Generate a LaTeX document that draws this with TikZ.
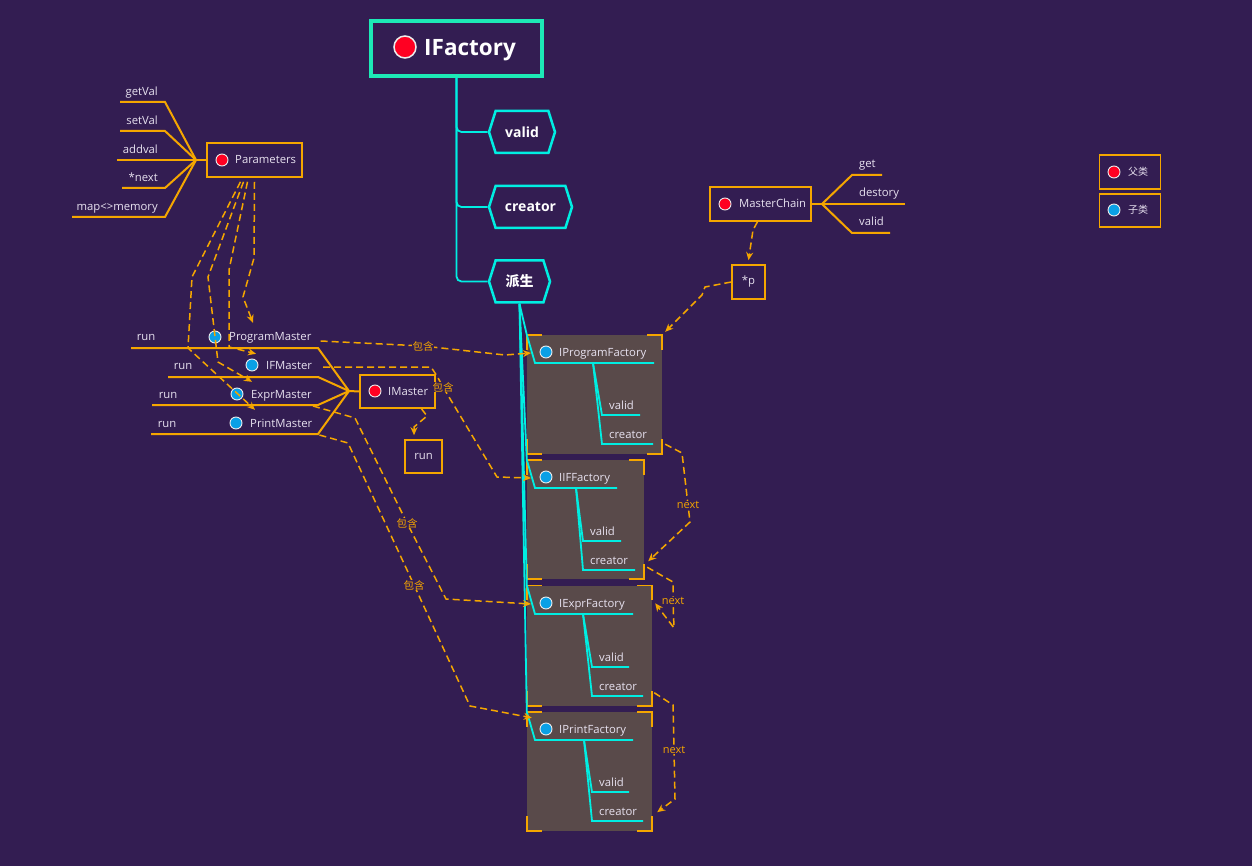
\documentclass[tikz,border=0pt]{standalone}
\usepackage{fontspec}
\setmainfont{Open Sans}
\newfontfamily\cjk{Noto Sans CJK SC}
\usetikzlibrary{shapes.symbols,arrows.meta}

\definecolor{bgpurple}{RGB}{51,29,82}
\definecolor{maporange}{RGB}{245,166,0}
\definecolor{mapcyan}{RGB}{0,238,226}
\definecolor{rootteal}{RGB}{29,233,182}
\definecolor{labeltext}{RGB}{232,226,240}
\definecolor{parentred}{RGB}{255,0,34}
\definecolor{childblue}{RGB}{10,160,230}
\definecolor{factoryfill}{RGB}{89,74,74}

\tikzset{
  obox/.style={draw=maporange, line width=1.6pt, minimum height=34pt, inner sep=0pt},
  fbox/.style={fill=factoryfill, inner sep=0pt},
  rootbox/.style={draw=rootteal, line width=4pt, minimum width=171pt, minimum height=55pt, inner sep=0pt},
  pdot/.style={circle, fill=parentred, draw=white!85!gray, line width=0.9pt, minimum size=12pt, inner sep=0pt},
  cdot/.style={pdot, fill=childblue},
  lbl/.style={anchor=west, text=labeltext, font=\fontsize{11.3}{13}\selectfont, inner sep=0pt, text height=8pt, text depth=0pt},
  hexbox/.style={signal, signal to=west and east, signal pointer angle=145, draw=mapcyan, line width=2.5pt,
    text=white, font=\bfseries\fontsize{14}{16}\selectfont, minimum height=42pt, inner xsep=1pt},
  oline/.style={draw=maporange, line width=2pt},
  cline/.style={draw=mapcyan, line width=1.8pt},
  corner/.style={draw=maporange, line width=1.6pt},
  dashlink/.style={draw=maporange, line width=1.5pt, dash pattern=on 7pt off 4pt, -{Stealth[length=8pt,width=7pt]}},
  linklbl/.style={text=maporange, fill=bgpurple, font=\cjk\fontsize{10.5}{12}\selectfont, inner sep=0.5pt},
  nextlbl/.style={text=maporange, fill=bgpurple, font=\fontsize{11}{13}\selectfont, inner sep=0.5pt},
}

\begin{document}
\begin{tikzpicture}[x=1pt,y=-1pt]
  \fill[bgpurple] (0,0) rectangle (1252,866);
  \useasboundingbox (0,0) rectangle (1252,866);

  % root IFactory and its branches
  \node[rootbox] (ifactory) at (456.5,48.5) {};
  \node[pdot, minimum size=22pt, line width=1.5pt] (ifactorydot) at (405,47) {};
  \node[anchor=base west, inner sep=0pt, text=white, font=\bfseries\fontsize{22.5}{26}\selectfont] (ifactorytxt) at (424,56) {IFactory};
  \node[hexbox, minimum width=66pt] (valid) at (522,132) {valid};
  \node[hexbox, minimum width=83pt] (creator) at (530.5,207) {creator};
  \node[hexbox, minimum width=61pt, font=\cjk\bfseries\fontsize{14}{16}\selectfont] (paisheng) at (519.5,281.5) {派生};
  \foreach \c in {valid,creator,paisheng}
    \draw[cline, rounded corners=5pt] (ifactory.south) |- (\c.west);

  % factory boxes
  \node[fbox, minimum width=135pt, minimum height=119pt] (progf) at (594.5,394.5) {};
  \node[fbox, minimum width=117pt, minimum height=119pt] (iff) at (585.5,519.5) {};
  \node[fbox, minimum width=125pt, minimum height=120pt] (exprf) at (589.5,645.5) {};
  \node[fbox, minimum width=125pt, minimum height=119pt] (printf) at (589.5,771.5) {};
  \foreach \f in {progf,iff,exprf,printf}{
    \draw[corner] ([yshift=-15pt]\f.north west) -- (\f.north west) -- ([xshift=15pt]\f.north west);
    \draw[corner] ([xshift=-15pt]\f.north east) -- (\f.north east) -- ([yshift=-15pt]\f.north east);
    \draw[corner] ([yshift=15pt]\f.south west) -- (\f.south west) -- ([xshift=15pt]\f.south west);
    \draw[corner] ([xshift=-15pt]\f.south east) -- (\f.south east) -- ([yshift=15pt]\f.south east);
  }
  \foreach \f/\ftitle/\yt/\uend/\xb/\xs/\yv/\vend/\yc/\cend in {
      progf/IProgramFactory/352/654/593/602/415/640/444/653,
      iff/IIFFactory/477/617/576/583/541/621/570/635,
      exprf/IExprFactory/603/633/583/592/667/629/696/643,
      printf/IPrintFactory/729/633/584/592/792/629/821/643}{
    \draw[cline] (paisheng.south) -- (\f.north west) -- (535,\yt+11) -- (\uend,\yt+11);
    \draw[cline] (\xb,\yt+11) -- (\xs,\yv) -- (\vend,\yv);
    \draw[cline] (\xb,\yt+11) -- (\xs,\yc) -- (\cend,\yc);
    \node[cdot] (\f-dot) at (546,\yt) {};
    \node[lbl] (\f-title) at (559,\yt) {\ftitle};
    \node[lbl] (\f-valid) at (\xs+7,\yv-10) {valid};
    \node[lbl] (\f-creator) at (\xs+7,\yc-10) {creator};
    \coordinate (\f-in) at (531,\yt+1);
  }

  % Parameters
  \node[obox, minimum width=95pt] (params) at (254.5,160) {};
  \node[pdot] (paramsdot) at (222,160) {};
  \node[lbl] (paramstxt) at (235,160) {Parameters};
  \coordinate (paramsj) at (196,160);
  \draw[oline] (params.west) -- (paramsj);
  \foreach \m/\ml/\yl/\xl in {getval/getVal/102/120, setval/setVal/131/120, addval/addval/160/117,
      pnext/*next/188/122, memory/map<>memory/217/72}{
    \node[lbl, anchor=east] (\m) at (158,\yl-10) {\ml};
    \draw[oline] (\xl,\yl) -- (165,\yl) -- (paramsj);
  }

  % MasterChain
  \node[obox, minimum width=101pt] (mchain) at (760.5,204) {};
  \node[pdot] (mchaindot) at (725,204) {};
  \node[lbl] (mchaintxt) at (739,204) {MasterChain};
  \coordinate (mchainj) at (822,204);
  \draw[oline] (mchain.east) -- (mchainj);
  \foreach \m/\ml/\yl/\xe in {mget/get/175/882, mdestory/destory/204/905, mvalid/valid/233/890}{
    \node[lbl] (\m) at (859,\yl-11) {\ml};
    \draw[oline] (mchainj) -- (852,\yl) -- (\xe,\yl);
  }
  \node[obox, minimum width=33pt, text=labeltext, font=\fontsize{11.3}{13}\selectfont] (pbox) at (748.5,282) {*p};

  % IMaster and the masters
  \node[obox, minimum width=75pt, minimum height=33pt] (imaster) at (397.5,391.5) {};
  \node[pdot] (imasterdot) at (375,391) {};
  \node[lbl] (imastertxt) at (388,391) {IMaster};
  \coordinate (imasterj) at (349,391);
  \draw[oline] (imasterj) -- (imaster.west);
  \foreach \m/\ml/\yt/\xd/\xr/\xl/\yl in {progm/ProgramMaster/337/215/146/131/348,
      ifm/IFMaster/365/252/183/168/377, exprm/ExprMaster/394/237/168/152/405,
      printm/PrintMaster/423/236/167/151/434}{
    \draw[oline] (\xl,\yl) -- (318,\yl) -- (imasterj);
    \node[cdot] (\m-dot) at (\xd,\yt) {};
    \node[lbl] (\m) at (\xd+14,\yt) {\ml};
    \node[lbl, anchor=center] (\m-run) at (\xr,\yt) {run};
  }
  \node[obox, minimum width=37pt, minimum height=33pt, text=labeltext, font=\fontsize{11.3}{13}\selectfont] (runbox) at (423.5,456.5) {run};

  % legend
  \node[obox, minimum width=61pt] (legparent) at (1130,172) {};
  \node[pdot] (legparentdot) at (1114,172) {};
  \node[lbl, font=\cjk\fontsize{10}{12}\selectfont] (legparenttxt) at (1128,172) {父类};
  \node[obox, minimum width=61pt, minimum height=33pt] (legchild) at (1130,210.5) {};
  \node[cdot] (legchilddot) at (1114,210) {};
  \node[lbl, font=\cjk\fontsize{10}{12}\selectfont] (legchildtxt) at (1128,210) {子类};

  % dashed links
  \draw[dashlink] ([yshift=-4pt]params.south) -- (254,258) -- (243,297) -- ([xshift=24pt,yshift=10pt]progm.north west);
  \draw[dashlink] ([xshift=-7pt,yshift=-4pt]params.south) -- (229,270) -- (229,347) -- ([xshift=-10pt,yshift=7pt]ifm.north west);
  \draw[dashlink] ([xshift=-11pt,yshift=-4pt]params.south) -- (208,277) -- (218,362) -- ([xshift=1pt,yshift=8pt]exprm.north west);
  \draw[dashlink] ([xshift=-14pt,yshift=-4pt]params.south) -- (192,277) -- (188,348) -- ([xshift=5pt,yshift=9pt]printm.north west);

  \draw[dashlink] ([xshift=24pt]imaster.south) -- (427,416) -- (414,427) -- ([xshift=-9.5pt,yshift=4pt]runbox.north);
  \draw[dashlink] ([xshift=-3pt]mchain.south) -- (753,230) -- ([yshift=4pt]pbox.north);
  \draw[dashlink] (pbox.west) -- (705,287) -- (702,295) -- ([xshift=3pt,yshift=3pt]progf.north east);

  \draw[dashlink] ([xshift=9pt,yshift=-4pt]progm.east) -- (423,346) node[linklbl] {包含} -- (505,355) -- (progf-in);
  \draw[dashlink] ([xshift=11pt,yshift=-2pt]ifm.east) -- (431,367) -- (437,376) -- (443,387) node[linklbl] {包含} -- (497,477) -- (iff-in);
  \draw[dashlink] ([xshift=1pt,yshift=-12pt]exprm.east) -- (355,418) -- (407,523) node[linklbl] {包含} -- (446,599) -- (exprf-in);
  \draw[dashlink] ([xshift=7pt,yshift=-12pt]printm.east) -- (348,443) -- (414,585) node[linklbl] {包含} -- (470,706) -- ([xshift=5pt,yshift=-6pt]printf.north west);

  \draw[dashlink] ([xshift=3pt,yshift=10pt]progf.south east) -- (682,453) -- (688,505) node[nextlbl] {next} -- (690,522) -- ([xshift=4pt,yshift=18pt]iff.south east);
  \draw[dashlink] ([xshift=3pt,yshift=12pt]iff.south east) -- (673,582) -- (673,601) node[nextlbl] {next} -- (674,628) -- ([xshift=3pt,yshift=-18pt]exprf.north east);
  \draw[dashlink] ([xshift=2pt,yshift=13pt]exprf.south east) -- (673,705) -- (674,750) node[nextlbl] {next} -- (675,799) -- ([xshift=5pt,yshift=19pt]printf.south east);
\end{tikzpicture}
\end{document}
